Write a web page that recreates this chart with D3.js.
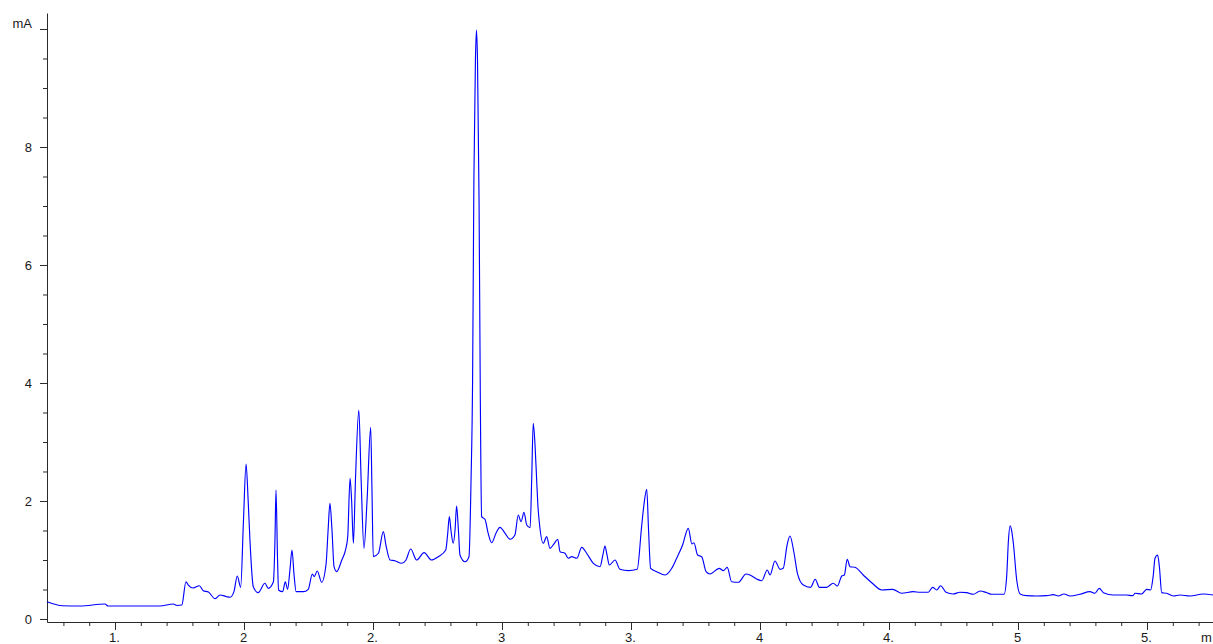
<!DOCTYPE html>
<html>
<head>
<meta charset="utf-8">
<script src="https://cdn.jsdelivr.net/npm/d3@7"></script>
<style>
    body { margin: 0; background: #fff; }
    .axis path, .axis line { stroke: #2a2a2a; }
</style>
</head>
<body>
<svg id="vis" width="1213" height="644"></svg>
<script>

// retention time (min)
var times = [1.236, 1.256, 1.295, 1.364, 1.461, 1.473, 1.597, 1.674, 1.726, 1.740,
    1.759, 1.775, 1.784, 1.803, 1.827, 1.842, 1.862, 1.888, 1.907, 1.933,
    1.946, 1.961, 1.974, 1.987, 1.998, 2.008, 2.016, 2.023, 2.036, 2.055,
    2.081, 2.094, 2.114, 2.120, 2.124, 2.130, 2.134, 2.150, 2.160, 2.169,
    2.178, 2.186, 2.194, 2.202, 2.230, 2.249, 2.265, 2.272, 2.284, 2.301,
    2.318, 2.326, 2.333, 2.341, 2.349, 2.359, 2.379, 2.394, 2.402, 2.411,
    2.417, 2.424, 2.432, 2.445, 2.454, 2.465, 2.477, 2.491, 2.496, 2.501,
    2.521, 2.540, 2.550, 2.566, 2.585, 2.611, 2.628, 2.646, 2.669, 2.698,
    2.727, 2.753, 2.782, 2.789, 2.796, 2.802, 2.811, 2.818, 2.824, 2.831,
    2.837, 2.857, 2.872, 2.880, 2.886, 2.891, 2.897, 2.901, 2.905, 2.911,
    2.916, 2.921, 2.934, 2.946, 2.960, 2.977, 2.992, 3.012, 3.031, 3.050,
    3.063, 3.074, 3.085, 3.096, 3.109, 3.115, 3.121, 3.128, 3.134, 3.139,
    3.145, 3.160, 3.173, 3.186, 3.203, 3.216, 3.225, 3.244, 3.257, 3.270,
    3.290, 3.309, 3.328, 3.354, 3.380, 3.391, 3.399, 3.407, 3.416, 3.438,
    3.457, 3.490, 3.524, 3.541, 3.550, 3.561, 3.568, 3.576, 3.600, 3.632,
    3.658, 3.677, 3.700, 3.722, 3.736, 3.744, 3.758, 3.774, 3.791, 3.806,
    3.842, 3.858, 3.873, 3.890, 3.916, 3.946, 3.961, 3.987, 4.007, 4.028,
    4.039, 4.058, 4.078, 4.090, 4.105, 4.116, 4.132, 4.145, 4.168, 4.196,
    4.214, 4.230, 4.258, 4.284, 4.300, 4.317, 4.327, 4.338, 4.349, 4.368,
    4.400, 4.433, 4.472, 4.514, 4.549, 4.594, 4.620, 4.652, 4.669, 4.685,
    4.700, 4.721, 4.749, 4.775, 4.801, 4.827, 4.853, 4.879, 4.898, 4.946,
    4.956, 4.963, 4.969, 4.975, 4.982, 4.995, 5.008, 5.034, 5.072, 5.111,
    5.137, 5.156, 5.178, 5.202, 5.240, 5.279, 5.298, 5.315, 5.331, 5.370,
    5.421, 5.445, 5.454, 5.479, 5.499, 5.514, 5.524, 5.531, 5.541, 5.548,
    5.557, 5.576, 5.602, 5.628, 5.667, 5.718, 5.756];

// detector signal (mA) at each time above
var signal = [0.293, 0.263, 0.225, 0.220, 0.254, 0.220, 0.220, 0.220, 0.254, 0.229,
    0.237, 0.632, 0.576, 0.525, 0.564, 0.480, 0.458, 0.344, 0.407, 0.378,
    0.368, 0.463, 0.729, 0.537, 1.678, 2.627, 2.017, 1.339, 0.547, 0.446,
    0.605, 0.520, 0.632, 1.339, 2.186, 1.000, 0.492, 0.463, 0.632, 0.503,
    0.831, 1.169, 0.746, 0.463, 0.463, 0.503, 0.763, 0.717, 0.814, 0.622,
    0.927, 1.508, 1.961, 1.508, 0.886, 0.802, 1.000, 1.181, 1.395, 2.385,
    2.017, 1.283, 2.356, 3.542, 2.356, 1.198, 2.017, 3.249, 2.186, 1.056,
    1.114, 1.480, 1.254, 1.000, 0.988, 0.944, 1.000, 1.186, 1.000, 1.124,
    1.000, 1.056, 1.169, 1.424, 1.734, 1.508, 1.283, 1.508, 1.915, 1.508,
    1.085, 0.971, 1.056, 2.356, 4.051, 7.441, 9.475, 9.983, 9.475, 7.102,
    3.712, 1.734, 1.690, 1.458, 1.293, 1.458, 1.554, 1.453, 1.351, 1.424,
    1.763, 1.649, 1.808, 1.593, 1.547, 2.356, 3.317, 2.949, 2.385, 1.932,
    1.622, 1.283, 1.395, 1.198, 1.283, 1.351, 1.141, 1.114, 1.029, 1.056,
    1.029, 1.215, 1.114, 0.944, 0.886, 1.085, 1.237, 1.085, 0.915, 1.000,
    0.842, 0.819, 0.842, 1.564, 1.932, 2.198, 1.508, 0.859, 0.802, 0.746,
    0.859, 1.029, 1.254, 1.537, 1.271, 1.293, 1.085, 1.056, 0.802, 0.763,
    0.859, 0.819, 0.876, 0.632, 0.622, 0.763, 0.746, 0.678, 0.649, 0.831,
    0.746, 0.983, 0.842, 0.859, 1.254, 1.407, 1.114, 0.775, 0.576, 0.537,
    0.673, 0.537, 0.537, 0.605, 0.559, 0.729, 0.746, 1.012, 0.886, 0.876,
    0.746, 0.615, 0.492, 0.503, 0.436, 0.463, 0.453, 0.453, 0.537, 0.492,
    0.564, 0.453, 0.424, 0.453, 0.446, 0.419, 0.475, 0.446, 0.419, 0.419,
    0.717, 1.339, 1.581, 1.508, 1.283, 0.661, 0.424, 0.395, 0.390, 0.395,
    0.412, 0.390, 0.424, 0.390, 0.419, 0.463, 0.436, 0.520, 0.446, 0.407,
    0.407, 0.395, 0.436, 0.424, 0.503, 0.492, 0.729, 1.029, 1.085, 0.886,
    0.446, 0.436, 0.390, 0.407, 0.390, 0.424, 0.407];

var xMajorTicks = [1.5, 2, 2.5, 3, 3.5, 4, 4.5, 5, 5.5];
var xTickLabels = ["1.", "2", "2.", "3", "3.", "4", "4.", "5", "5."];
var yMajorTicks = [0, 2, 4, 6, 8, 10];
var yTickLabels = ["0", "2", "4", "6", "8", "mA"];
var xUnit = "m";

var w = 1213;
var h = 644;
var labelFont = '"Liberation Sans", Arial, sans-serif';

window.onload = function(){
    drawChart();
};

function styleText(sel){
    sel.style("font-family", labelFont)
        .style("font-size", "13px")
        .attr("fill", "#1a1a1a");
}

function drawChart(){
    var svg = d3.select("#vis");

    // plot frame: y axis at x=47, x axis at y=622
    var xScale = d3.scaleLinear()
        .domain([1.2364, 5.7558])
        .range([47, w]);
    var yScale = d3.scaleLinear()
        .domain([-0.051, 10.271])
        .range([622, 13]);

    var xMinor = d3.range(13, 58).map(function(d){ return d / 10; })
        .filter(function(d){ return Math.round(d * 10) % 5 != 0; });
    var yMinor = d3.range(1, 20).map(function(d){ return d / 2; })
        .filter(function(d){ return yMajorTicks.indexOf(d) < 0; });

    // x axis
    svg.append("g")
        .attr("class", "axis")
        .attr("transform", "translate(0,622)")
        .call(d3.axisBottom(xScale).tickValues(xMinor).tickSize(4).tickSizeOuter(0).tickFormat(""));
    var xAx = svg.append("g")
        .attr("class", "axis")
        .attr("transform", "translate(0,622)")
        .call(d3.axisBottom(xScale).tickValues(xMajorTicks).tickSize(8).tickSizeOuter(0)
            .tickFormat(function(d, i){ return xTickLabels[i]; }));
    xAx.select(".domain").remove();
    xAx.selectAll("text")
        .attr("y", null)
        .attr("dy", null)
        .attr("transform", "translate(-1,20)")
        .call(styleText);

    svg.append("text")
        .attr("x", 1201)
        .attr("y", 642)
        .text(xUnit)
        .call(styleText);

    // y axis
    svg.append("g")
        .attr("class", "axis")
        .attr("transform", "translate(47,0)")
        .call(d3.axisLeft(yScale).tickValues(yMinor).tickSize(4).tickSizeOuter(0).tickFormat(""));
    var yAx = svg.append("g")
        .attr("class", "axis")
        .attr("transform", "translate(47,0)")
        .call(d3.axisLeft(yScale).tickValues(yMajorTicks).tickSize(7).tickSizeOuter(0)
            .tickFormat(function(d, i){ return yTickLabels[i]; }));
    yAx.select(".domain").remove();
    yAx.selectAll("text")
        .attr("x", -15)
        .call(styleText);
    // "mA" sits a bit above its tick
    yAx.selectAll(".tick").filter(function(d){ return d == 10; })
        .select("text").attr("dy", "-0.15em");

    // the trace
    var pts = times.map(function(t, i){ return [t, signal[i]]; });
    var line = d3.line()
        .x(function(d){ return xScale(d[0]); })
        .y(function(d){ return yScale(d[1]); })
        .curve(d3.curveMonotoneX);

    svg.append("path")
        .datum(pts)
        .attr("d", line)
        .attr("fill", "none")
        .attr("stroke", "#0000ff")
        .attr("stroke-width", 1.15);
}

</script>
</body>
</html>
